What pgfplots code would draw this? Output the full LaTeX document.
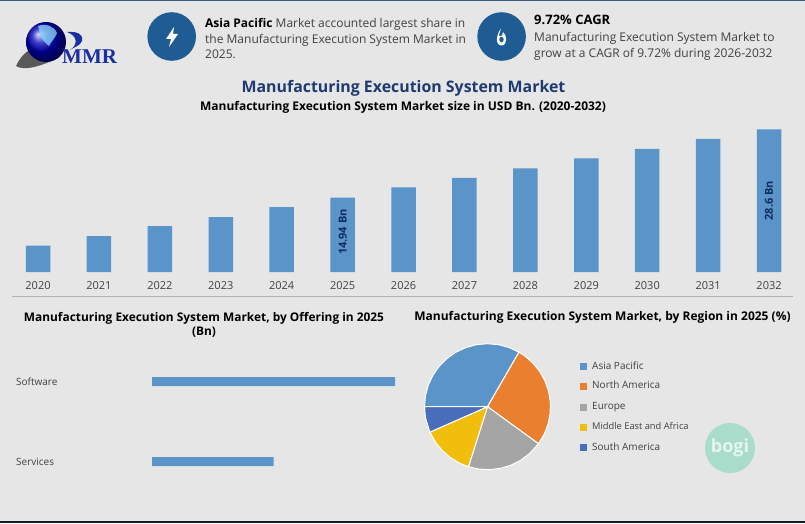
\documentclass[border=0pt]{standalone}
\usepackage{fontspec}
\setmainfont{Open Sans}
\usepackage{pgfplots}
\usepgfplotslibrary{polar}
\pgfplotsset{compat=1.18}
\newfontfamily\logofont{Liberation Serif}
\definecolor{pagebg}{HTML}{E6E6E6}
\definecolor{barblue}{HTML}{5B94C8}
\definecolor{navy}{HTML}{1F3A70}
\definecolor{labelnavy}{HTML}{0F2D60}
\definecolor{iconblue}{HTML}{1F5C93}
\definecolor{edge}{HTML}{3A5F85}
\definecolor{textgrey}{HTML}{404040}
\definecolor{slice1}{HTML}{5B94C8}
\definecolor{slice2}{HTML}{EA7F30}
\definecolor{slice3}{HTML}{A5A5A5}
\definecolor{slice4}{HTML}{F2BE0E}
\definecolor{slice5}{HTML}{4A6DBB}
\definecolor{mint}{HTML}{A9DCCB}
\definecolor{logoblue}{HTML}{1A2FA0}
\begin{document}
\begin{tikzpicture}[x=1pt,y=1pt]
% page, coordinates are reference pixels with y measured up from the bottom
\fill[pagebg] (0,0) rectangle (805,523);
\fill[edge] (0,521.5) rectangle (805,523);
\fill[black!70!edge] (0,0) rectangle (805,2);

% logo
\fill[gray!70!black] (16,457) .. controls (22,470) and (30,474) .. (38,477) .. controls (32,468) and (45,464) .. (60,466) .. controls (40,456) and (24,452) .. (16,457) -- cycle;
\shade[ball color=blue!75!black] (46,481) circle (20);
\fill[cyan!45!white,opacity=.75] (38,497) .. controls (46,500) and (54,497) .. (57,490) .. controls (55,484) and (51,482) .. (49,477) .. controls (45,480) and (41,484) .. (40,490) -- cycle;
\fill[logoblue] (67,491) .. controls (78,492) and (84,488) .. (82,482) .. controls (80,477) and (74,476) .. (70,473) .. controls (78,478) and (78,487) .. (67,491) -- cycle;
\node[font=\logofont\bfseries\fontsize{21}{21}\selectfont,text=logoblue,anchor=west,inner sep=0] at (62,466.5) {MMR};

% header blocks
\fill[iconblue] (171.7,486.5) circle (24.3);
\fill[white] (174,496) -- (166,484) -- (171,484) -- (169,476) -- (178,489) -- (173,489) -- cycle;
\fill[iconblue] (501.6,486.5) circle (24.3);
\fill[white] (501,494.5) .. controls (496,488) and (495,478) .. (501.5,477.5) .. controls (508,478) and (507,488) .. (503,491) .. controls (503,486) and (499,486) .. (499,488) -- cycle;
\fill[iconblue] (501.5,483.5) ellipse (2.2 and 2.8);
\node[anchor=west,inner sep=0,font=\fontsize{12}{15.5}\selectfont,text=textgrey,align=left] at (205,484.5)
  {\textcolor{black}{\textbf{Asia Pacific}} Market accounted largest share in\\the Manufacturing Execution System Market in\\2025.};
\node[anchor=west,inner sep=0,font=\bfseries\fontsize{13}{13}\selectfont,text=black] at (534,503) {9.72\% CAGR};
\node[anchor=west,inner sep=0,font=\fontsize{12}{15.5}\selectfont,text=textgrey,align=left] at (534,476.5)
  {Manufacturing Execution System Market to\\grow at a CAGR of 9.72\% during 2026-2032};

\node[font=\bfseries\fontsize{15.9}{16}\selectfont,text=navy,inner sep=0] at (403.5,434.5) {Manufacturing Execution System Market};
\node[font=\bfseries\fontsize{12}{12}\selectfont,inner sep=0] at (403,415.5) {Manufacturing Execution System Market size in USD Bn. (2020-2032)};

% yearly market size
\begin{axis}[
    at={(8pt,251pt)},anchor=south west,
    scale only axis,width=790pt,height=142.5pt,
    xmin=-0.4925,xmax=12.475,ymin=0,ymax=28.6,
    axis y line=none,axis x line*=bottom,
    axis line style={draw=none},
    major tick length=0pt,
    clip=false,
    ybar,bar width=24.5pt,bar shift=0pt,
    xtick=data,
    xticklabels={2020,2021,2022,2023,2024,2025,2026,2027,2028,2029,2030,2031,2032},
    xticklabel style={font=\fontsize{11}{11}\selectfont,text=textgrey,inner sep=0,yshift=-9.5pt},
  ]
  \addplot[fill=barblue,draw=none] coordinates {
    (0,5.3) (1,7.2) (2,9.2) (3,11) (4,13) (5,14.94) (6,17)
    (7,18.9) (8,20.8) (9,22.8) (10,24.7) (11,26.7) (12,28.6)
  };
  \node[rotate=90,font=\bfseries\fontsize{11}{11}\selectfont,text=labelnavy,xshift=2pt] at (axis cs:5,7.6) {14.94 Bn};
  \node[rotate=90,font=\bfseries\fontsize{11}{11}\selectfont,text=labelnavy] at (axis cs:12,14.3) {28.6 Bn};
\end{axis}
\draw[gray!60] (12,226.7) -- (793,226.7);

\node[font=\bfseries\fontsize{11.9}{14}\selectfont,align=center,inner sep=0] at (204,198.5) {Manufacturing Execution System Market, by Offering in 2025\\(Bn)};
\node[font=\bfseries\fontsize{12}{14}\selectfont,inner sep=0] at (602.5,205.5) {Manufacturing Execution System Market, by Region in 2025 (\%)};

% offering
\begin{axis}[
    at={(152pt,21.3pt)},anchor=south west,
    scale only axis,width=243pt,height=160pt,
    xmin=0,xmax=10,ymin=0.5,ymax=2.5,
    axis y line=left,axis x line=none,
    axis line style={draw=none},
    major tick length=0pt,
    xbar,bar width=9pt,bar shift=0pt,
    ytick={1,2},yticklabels={Services,Software},
    yticklabel style={anchor=west,xshift=-136pt,font=\fontsize{10}{10}\selectfont,text=textgrey,inner sep=0},
  ]
  \addplot[fill=barblue,draw=none] coordinates {(5,1) (10,2)};
\end{axis}

% region
\begin{polaraxis}[
    at={(487.5pt,116.3pt)},anchor=center,
    scale only axis,width=126pt,height=126pt,
    ymin=0,ymax=1,
    hide axis,clip=false,
  ]
  \addplot[fill=slice1,draw=white,line width=1pt] coordinates {(0,0) (60,1) (70,1) (80,1) (90,1) (100,1) (110,1) (120,1) (130,1) (140,1) (150,1) (160,1) (170,1) (180,1)} -- cycle;
  \addplot[fill=slice2,draw=white,line width=1pt] coordinates {(0,0) (-36,1) (-26,1) (-16,1) (-6,1) (4,1) (14,1) (24,1) (34,1) (44,1) (54,1) (60,1)} -- cycle;
  \addplot[fill=slice3,draw=white,line width=1pt] coordinates {(0,0) (252.4,1) (262,1) (272,1) (282,1) (292,1) (302,1) (312,1) (324,1)} -- cycle;
  \addplot[fill=slice4,draw=white,line width=1pt] coordinates {(0,0) (203.8,1) (214,1) (224,1) (234,1) (244,1) (252.4,1)} -- cycle;
  \addplot[fill=slice5,draw=white,line width=1pt] coordinates {(0,0) (180,1) (190,1) (203.8,1)} -- cycle;
\end{polaraxis}

% region legend
\foreach \c/\t/\yy/\s in {slice1/Asia Pacific/366.5/10,slice2/North America/386/10,slice3/Europe/407/10,slice4/Middle East and Africa/427/9.3,slice5/South America/447.5/10}{
  \fill[\c] (579.5,523-\yy-3.5) rectangle (586.5,523-\yy+3.5);
  \node[anchor=west,inner sep=0,text height=7.5pt,text depth=2pt,font=\fontsize{\s}{10}\selectfont,text=textgrey] at (592,523-\yy) {\t};
}

% watermark
\fill[mint] (730,75) circle (25);
\node[font=\bfseries\fontsize{18}{18}\selectfont,text=white!70!mint,inner sep=0] at (730,75) {bogi};
\end{tikzpicture}
\end{document}
